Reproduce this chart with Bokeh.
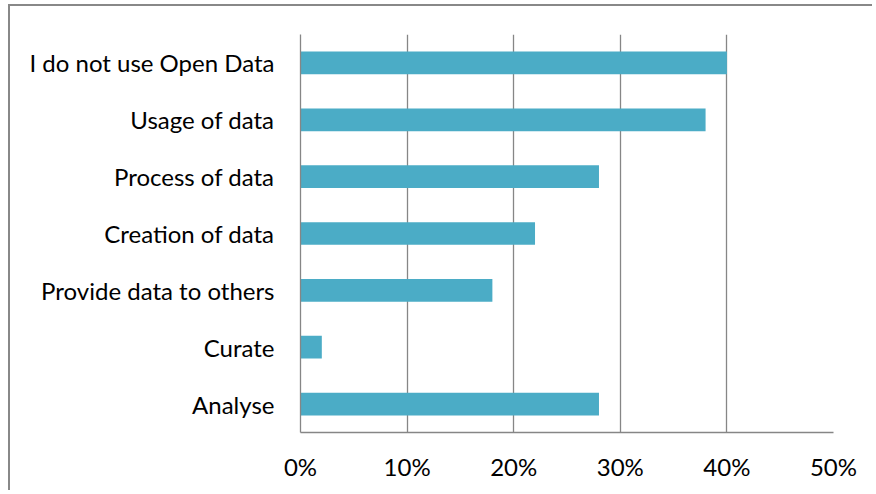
from bokeh.plotting import figure
from bokeh.models import Range1d, FixedTicker, CustomJSTickFormatter
from bokeh.embed import file_html
from bokeh.resources import INLINE

categories = ["I do not use Open Data", "Usage of data", "Process of data",
              "Creation of data", "Provide data to others", "Curate", "Analyse"]
values = [40, 38, 28, 22, 18, 2, 28]
x_ticks = [0, 10, 20, 30, 40, 50]

FONT = "Lato"
GRID = "#868686"
BAR = "#4BACC6"

p = figure(width=864, height=486, output_backend="svg", toolbar_location=None,
           y_range=list(reversed(categories)), x_range=Range1d(0, 50),
           min_border_left=290, min_border_right=41, min_border_top=28,
           min_border_bottom=60)
p.styles = {"margin-left": "8px", "margin-top": "4px",
            "border-top": "2px solid #888888", "border-left": "2px solid #888888"}
p.outline_line_color = None

p.hbar(y=categories, right=values, left=0, height=0.4, color=BAR, line_color=None)

p.xaxis.ticker = FixedTicker(ticks=x_ticks)
p.xaxis.formatter = CustomJSTickFormatter(code="return tick + '%';")
for ax in (p.xaxis, p.yaxis):
    ax.axis_line_color = GRID
    ax.axis_line_width = 1.3
    ax.major_tick_line_color = None
    ax.minor_tick_line_color = None
    ax.major_label_text_font = FONT
    ax.major_label_text_font_size = "24px"
    ax.major_label_text_color = "black"
p.xaxis.major_label_standoff = 13
p.yaxis.major_label_standoff = 20

p.xgrid.ticker = FixedTicker(ticks=x_ticks)
p.xgrid.grid_line_color = GRID
p.xgrid.grid_line_width = 1.3
p.ygrid.grid_line_color = None

open("out.html", "w").write(file_html(p, INLINE))
